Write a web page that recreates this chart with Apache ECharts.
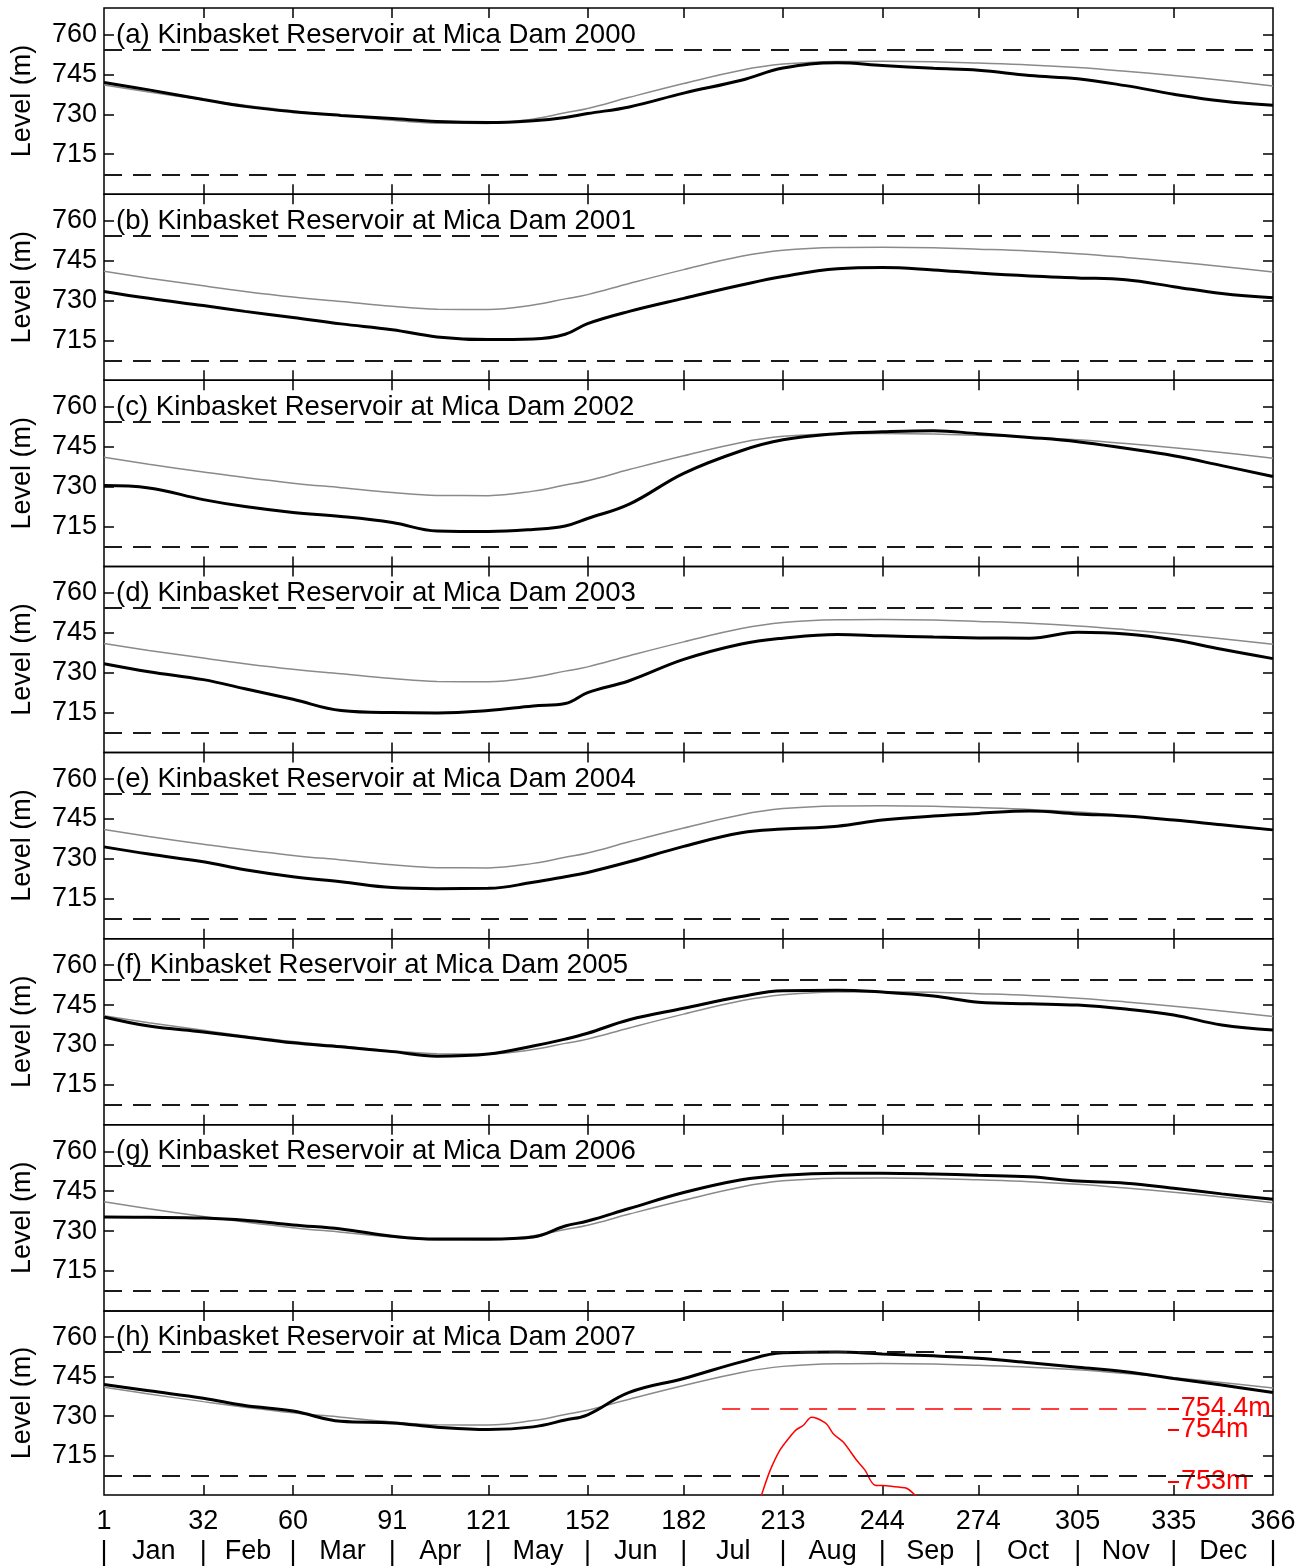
<!DOCTYPE html>
<html>
<head>
<meta charset="utf-8">
<script src="https://cdn.jsdelivr.net/npm/echarts@6/dist/echarts.min.js"></script>
<style>
html,body{margin:0;padding:0;background:#fff;}
#chart{width:1310px;height:1568px;}
</style>
</head>
<body>
<div id="chart"></div>
<script>
// ---------------- DATA ----------------
const days = [1, 15, 32, 45, 60, 75, 91, 105, 121, 135, 145, 152, 165, 182, 200, 213, 230, 244, 260, 274, 290, 305, 320, 335, 350, 366];

// thin grey reference curve (same in every panel)
const ruleCurve = [741.0, 738.4, 735.5, 733.4, 731.3, 729.6, 727.8, 726.7, 726.6, 728.3, 730.6, 732.2, 736.4, 741.6, 746.6, 748.9, 749.9, 750.0, 749.8, 749.3, 748.6, 747.6, 746.2, 744.6, 742.8, 740.7];

// thick black observed levels
const level2000 = [742.0, 739.2, 735.6, 733.0, 731.0, 729.6, 728.4, 727.3, 726.9, 727.6, 728.8, 730.3, 732.8, 738.0, 742.8, 747.4, 749.4, 748.4, 747.3, 746.6, 744.6, 743.4, 740.8, 737.6, 735.0, 733.4];
const level2001 = [733.4, 730.8, 728.1, 725.9, 723.6, 721.2, 719.0, 716.3, 715.3, 715.5, 717.3, 721.3, 725.9, 730.8, 735.8, 739.0, 741.9, 742.4, 741.5, 740.3, 739.2, 738.5, 737.8, 735.2, 732.6, 731.0];
const level2002 = [730.4, 729.5, 725.1, 722.5, 720.3, 718.8, 716.5, 713.3, 713.1, 713.9, 715.2, 718.0, 723.4, 735.0, 743.5, 747.6, 749.9, 750.6, 751.0, 749.9, 748.5, 746.9, 744.4, 741.6, 737.9, 733.8];
const level2003 = [733.4, 730.4, 727.4, 724.0, 720.0, 715.8, 715.0, 714.9, 715.8, 717.5, 718.4, 722.5, 727.0, 735.0, 740.8, 743.0, 744.4, 743.9, 743.4, 743.1, 743.0, 745.2, 744.6, 742.4, 738.8, 735.3];
const level2004 = [734.5, 731.8, 728.9, 725.9, 723.3, 721.4, 719.2, 718.8, 718.9, 721.2, 723.3, 724.9, 728.9, 734.7, 739.8, 741.2, 742.3, 744.6, 746.1, 747.1, 748.0, 746.9, 746.1, 744.6, 742.8, 740.9];
const level2005 = [740.5, 737.1, 734.9, 733.0, 730.8, 729.3, 727.5, 725.8, 726.6, 729.6, 732.2, 734.4, 739.5, 743.8, 748.2, 750.4, 750.6, 749.9, 748.4, 746.1, 745.5, 745.0, 743.5, 741.3, 737.5, 735.6];
const level2006 = [735.3, 735.2, 734.9, 734.1, 732.3, 730.8, 728.1, 727.0, 727.0, 727.8, 731.9, 733.8, 738.5, 744.5, 749.3, 751.0, 751.8, 751.8, 751.5, 751.0, 750.4, 748.8, 748.0, 746.1, 744.0, 742.0];
const level2007 = [742.0, 739.6, 736.8, 734.0, 731.9, 728.0, 727.4, 725.8, 724.9, 725.9, 728.5, 730.5, 739.0, 744.3, 750.6, 754.1, 754.4, 753.6, 752.9, 752.0, 750.3, 748.6, 746.9, 744.3, 741.8, 739.0];

const yearLevels = [level2000, level2001, level2002, level2003, level2004, level2005, level2006, level2007];
const panelLetters = ['a', 'b', 'c', 'd', 'e', 'f', 'g', 'h'];
const panelYears = [2000, 2001, 2002, 2003, 2004, 2005, 2006, 2007];

const fullPoolLevel = 754.4;
const lowPoolLevel = 707.4;

// red zoomed inset of the 2007 peak
const insetDays = [205.0, 206.3, 208.9, 212.0, 215.0, 217.2, 219.3, 221.9, 223.5, 226.6, 228.7, 231.8, 236.0, 238.6, 241.7, 245.4, 249.5, 251.6, 254.2, 256.0];
const insetLevels = [752.50, 752.74, 753.20, 753.60, 753.85, 754.00, 754.08, 754.24, 754.22, 754.11, 753.92, 753.76, 753.41, 753.22, 752.93, 752.92, 752.89, 752.87, 752.74, 752.60];
const insetLabelValues = [753, 754];
const insetTickValues = [753, 754, 754.4];
const insetLineDays = [194, 332.5];
const insetLineLabel = '754.4m';

// axis ticks
const dayTicks = [1, 32, 60, 91, 121, 152, 182, 213, 244, 274, 305, 335, 366];
const monthNames = ['Jan', 'Feb', 'Mar', 'Apr', 'May', 'Jun', 'Jul', 'Aug', 'Sep', 'Oct', 'Nov', 'Dec'];
const monthCenters = [16.5, 46, 75.5, 106, 136.5, 167, 197.5, 228.5, 259, 289.5, 320, 350.5];
const levelTicks = [715, 730, 745, 760];

// ---------------- OPTION ----------------
const FONT = "'Liberation Sans', Arial, Helvetica, sans-serif";
const FS = 27;
const PANEL_TOP = 8;
const PANEL_H = 186.125;
const LEFT = 104;
const RIGHT = 1310 - 1273;

const grids = [], xAxes = [], yAxes = [], series = [], titles = [];
const innerTicks = dayTicks.slice(1, -1);

for (let i = 0; i < 8; i++) {
  const top = PANEL_TOP + i * PANEL_H;
  grids.push({ left: LEFT, right: RIGHT, top: top, height: PANEL_H, show: true, borderColor: '#000', borderWidth: 1.5, containLabel: false });
  const last = i === 7;
  // bottom x axis
  xAxes.push({
    type: 'value', gridIndex: i, min: 1, max: 366, position: 'bottom',
    axisLine: { show: false },
    splitLine: { show: false },
    axisTick: { show: true, inside: true, length: 10, customValues: innerTicks, lineStyle: { color: '#000', width: 1.5 } },
    axisLabel: last ? {
      show: true, customValues: dayTicks, margin: 11,
      formatter: v => v + '\n|',
      fontFamily: FONT, fontSize: FS, color: '#000', lineHeight: 31
    } : { show: false }
  });
  // top x axis
  xAxes.push({
    type: 'value', gridIndex: i, min: 1, max: 366, position: 'top',
    axisLine: { show: false }, splitLine: { show: false },
    axisTick: { show: true, inside: true, length: 10, customValues: innerTicks, lineStyle: { color: '#000', width: 1.5 } },
    axisLabel: { show: false }
  });
  // left y axis
  yAxes.push({
    type: 'value', gridIndex: i, min: 700, max: 770, position: 'left',
    name: 'Level (m)', nameLocation: 'middle', nameGap: 68,
    nameTextStyle: { fontFamily: FONT, fontSize: FS, color: '#000' },
    axisLine: { show: false }, splitLine: { show: false },
    axisTick: { show: true, inside: true, length: 10, customValues: levelTicks, lineStyle: { color: '#000', width: 1.5 } },
    axisLabel: { show: true, customValues: levelTicks, margin: 7, fontFamily: FONT, fontSize: FS, color: '#000' }
  });
  // right y axis
  yAxes.push({
    type: 'value', gridIndex: i, min: 700, max: 770, position: 'right',
    axisLine: { show: false }, splitLine: { show: false },
    axisTick: { show: true, inside: true, length: 10, customValues: levelTicks, lineStyle: { color: '#000', width: 1.5 } },
    axisLabel: { show: false }
  });

  titles.push({
    text: '(' + panelLetters[i] + ') Kinbasket Reservoir at Mica Dam ' + panelYears[i],
    left: 116, top: top + 13, padding: 0,
    textStyle: { fontFamily: FONT, fontSize: 27.6, fontWeight: 'normal', color: '#000' }
  });

  series.push({
    type: 'line', xAxisIndex: 2 * i, yAxisIndex: 2 * i,
    data: days.map((d, k) => [d, ruleCurve[k]]),
    smooth: 0.4, showSymbol: false, symbol: 'none',
    lineStyle: { color: '#8a8a8a', width: 1.5 }, z: 2, silent: true,
    markLine: {
      silent: true, symbol: ['none', 'none'],
      label: { show: false },
      lineStyle: { color: '#1a1a1a', type: [18, 11], width: 2 },
      data: [{ yAxis: fullPoolLevel }, { yAxis: lowPoolLevel }]
    }
  });
  series.push({
    type: 'line', xAxisIndex: 2 * i, yAxisIndex: 2 * i,
    data: days.map((d, k) => [d, yearLevels[i][k]]),
    smooth: 0.4, showSymbol: false, symbol: 'none',
    lineStyle: { color: '#000', width: 3 }, z: 3, silent: true
  });
}

// month label axis (bottom panel)
xAxes.push({
  type: 'value', gridIndex: 7, min: 1, max: 366, position: 'bottom',
  axisLine: { show: false }, splitLine: { show: false }, axisTick: { show: false },
  axisLabel: {
    show: true, customValues: monthCenters, margin: 43,
    formatter: v => monthNames[monthCenters.indexOf(v)],
    fontFamily: FONT, fontSize: FS, color: '#000'
  }
});

// inset red y-axis inside panel h
yAxes.push({
  type: 'value', gridIndex: 7, min: 752.74, max: 756.29, position: 'right', offset: -105,
  axisLine: { show: false }, splitLine: { show: false },
  axisTick: { show: true, length: 11, customValues: insetTickValues, lineStyle: { color: '#ff0000', width: 2 } },
  axisLabel: {
    show: true, customValues: insetLabelValues, margin: 13, hideOverlap: false,
    formatter: v => v + 'm',
    fontFamily: FONT, fontSize: FS, color: '#ff0000'
  }
});

series.push({
  type: 'line', xAxisIndex: 14, yAxisIndex: 16,
  data: insetDays.map((d, k) => [d, insetLevels[k]]),
  smooth: 0.3, showSymbol: false, symbol: 'none', clip: true,
  lineStyle: { color: '#ff0000', width: 1.5 }, z: 4, silent: true,
  markLine: {
    silent: true, symbol: ['none', 'none'],
    label: {
      show: true, position: 'end', distance: 15, formatter: insetLineLabel,
      fontFamily: FONT, fontSize: FS, color: '#ff0000'
    },
    lineStyle: { color: '#ff0000', type: [18, 11], width: 1.5 },
    data: [[{ coord: [insetLineDays[0], fullPoolLevel] }, { coord: [insetLineDays[1], fullPoolLevel] }]]
  }
});

const chart = echarts.init(document.getElementById('chart'), null, { renderer: 'canvas' });
chart.setOption({
  animation: false,
  backgroundColor: '#fff',
  title: titles,
  grid: grids,
  xAxis: xAxes,
  yAxis: yAxes,
  series: series
});
</script>
</body>
</html>
